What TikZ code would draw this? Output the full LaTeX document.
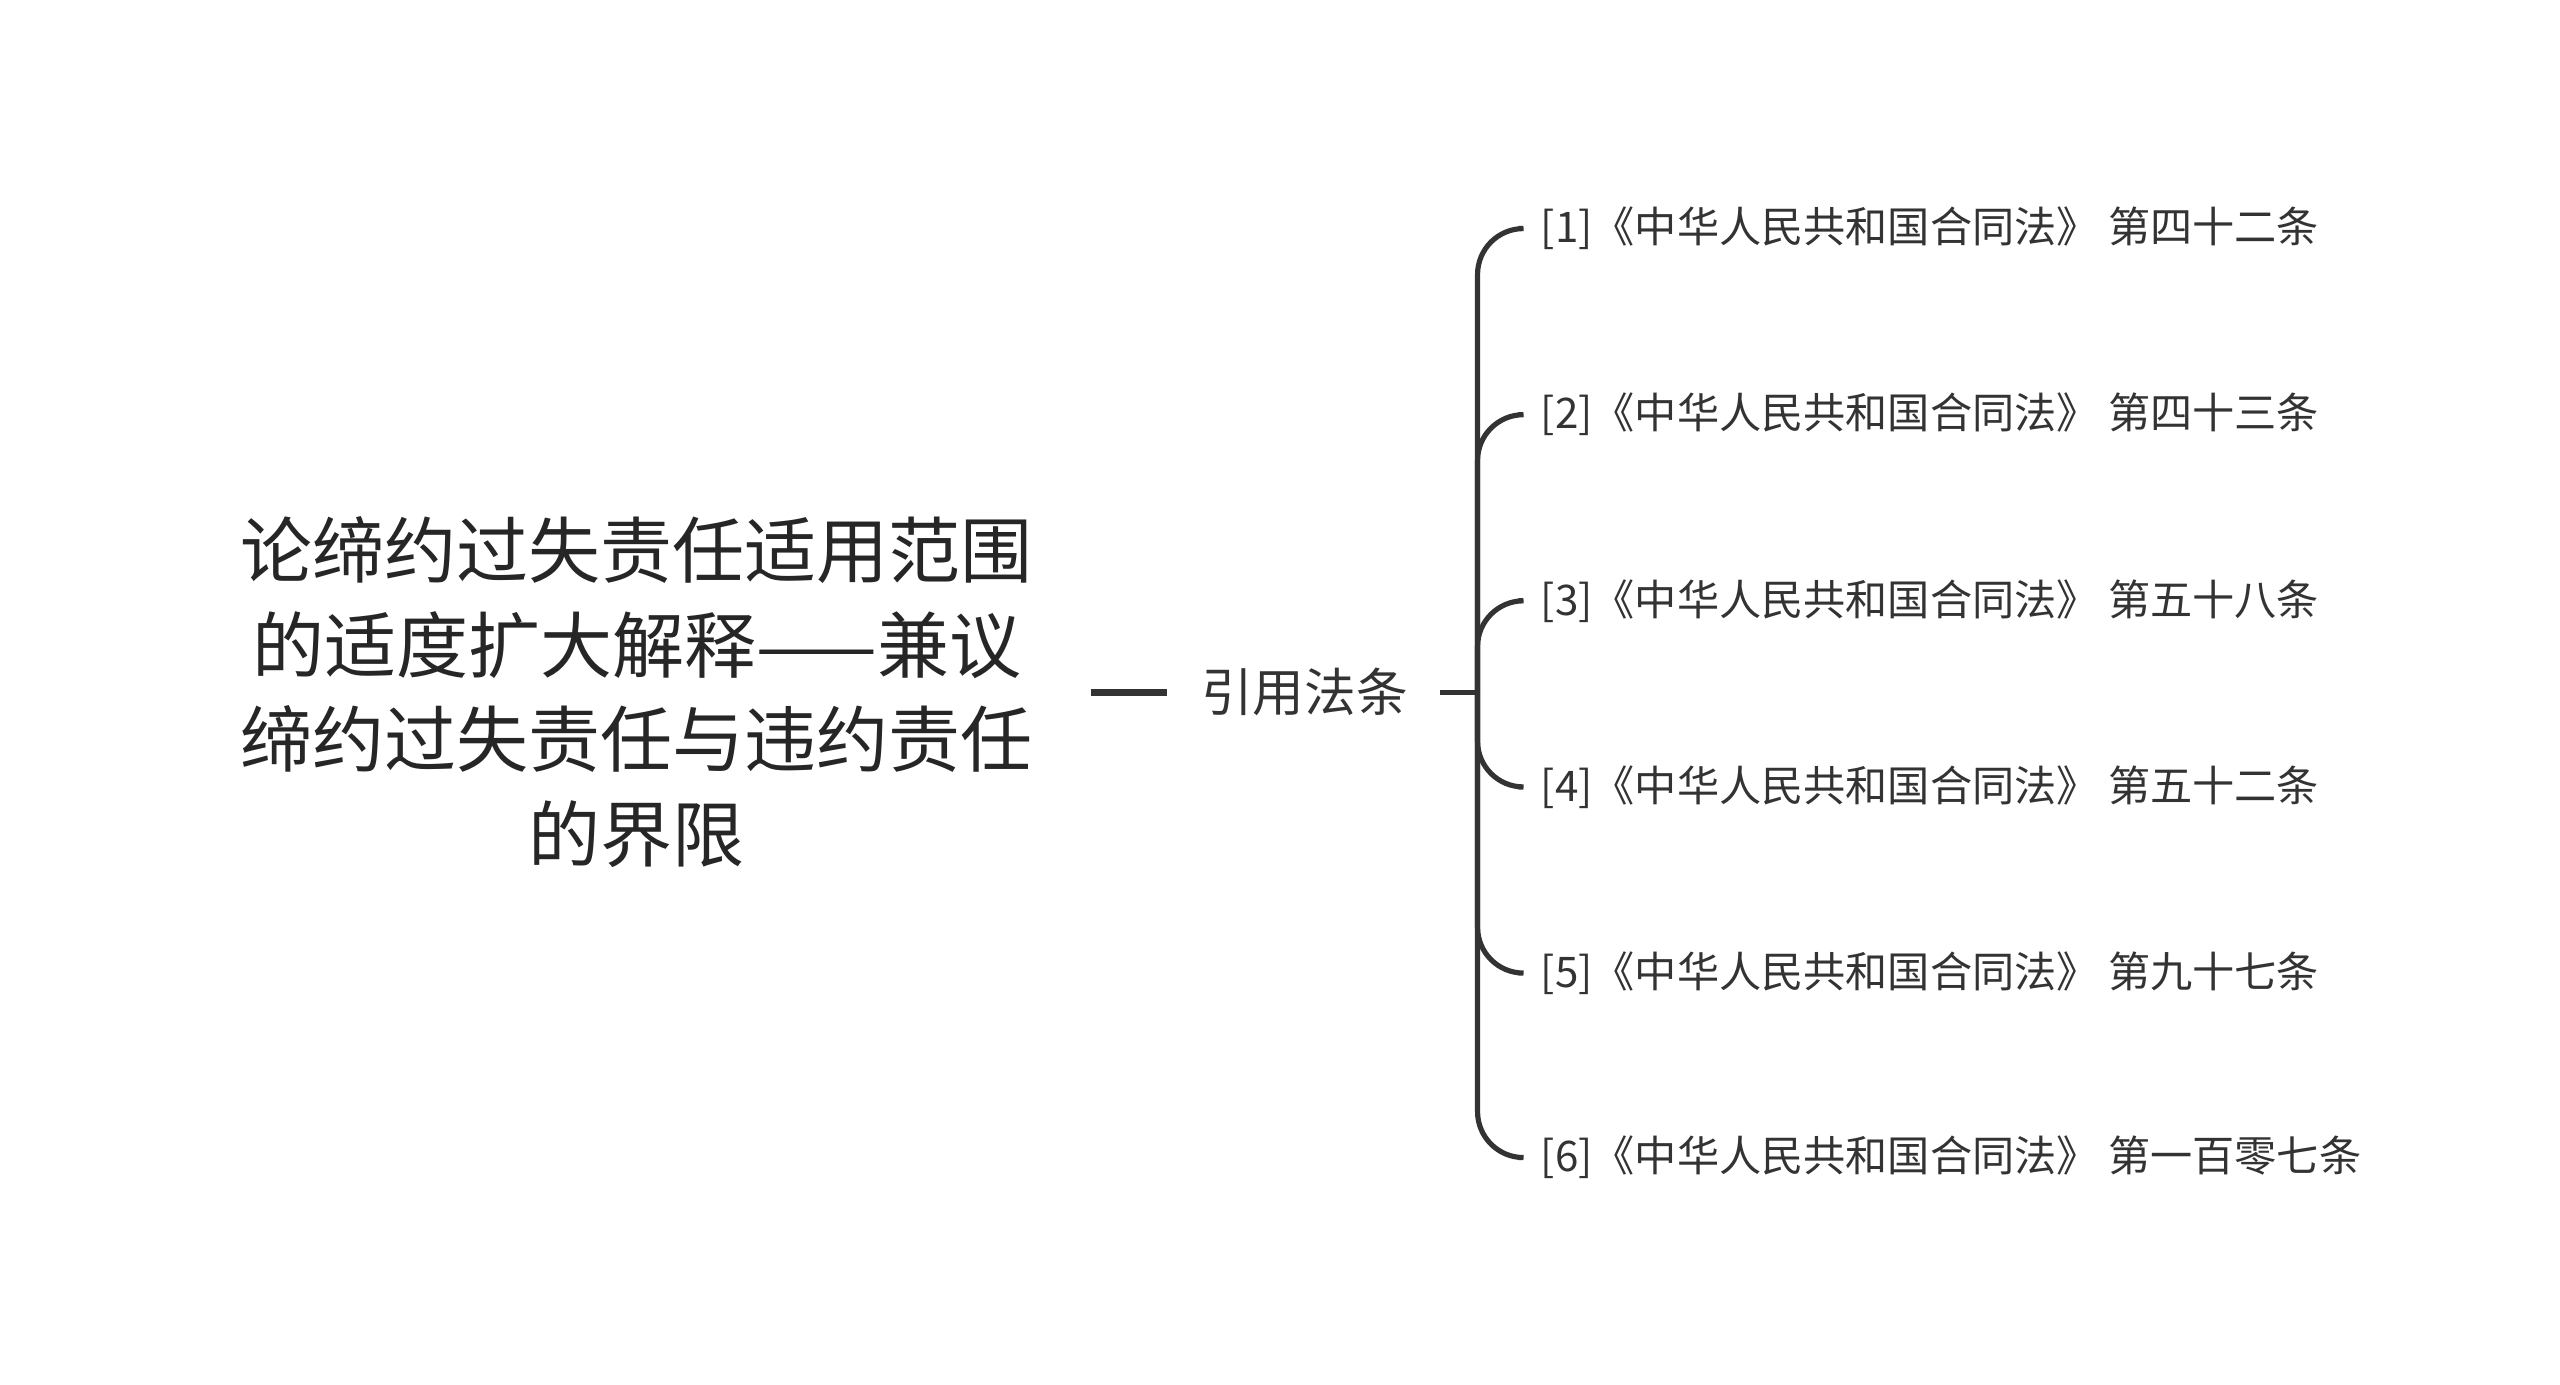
\documentclass[tikz,border=0pt]{standalone}
\usepackage{fontspec}
\setmainfont{Noto Sans CJK SC}
\begin{document}
\begin{tikzpicture}[x=0.1mm,y=-0.1mm,
  ln/.style={draw=black!80,line width=0.9pt},
  leaf/.style={anchor=west,inner sep=0pt,font=\fontsize{7.35pt}{9pt}\selectfont,text=black!80}]
\useasboundingbox (0,0) rectangle (1568,848);
\node[align=center,inner sep=0pt,text=black!85,font=\fontsize{12.55pt}{16.5pt}\selectfont] (root) at (390,424) {论缔约过失责任适用范围\\的适度扩大解释——兼议\\缔约过失责任与违约责任\\的界限};
\coordinate (r) at (668,424);
\node[inner sep=0pt,font=\fontsize{9pt}{11pt}\selectfont,text=black!80] (mid) at (799,424) {引用法条};
\draw[ln,line width=1.2pt] (r) -- (715,424);
\coordinate (b) at (905,424);
\draw[ln] (882,424) -- (b);
\foreach \i/\y/\t in {1/140/第四十二条,2/254/第四十三条,3/368/第五十八条,4/482/第五十二条,5/596/第九十七条,6/709/第一百零七条}{
  \node[leaf] (l\i) at (943,\y) {[\i]《中华人民共和国合同法》 \t};
  \draw[ln,rounded corners=8] (b) |- (930,\y);
}
\end{tikzpicture}
\end{document}
